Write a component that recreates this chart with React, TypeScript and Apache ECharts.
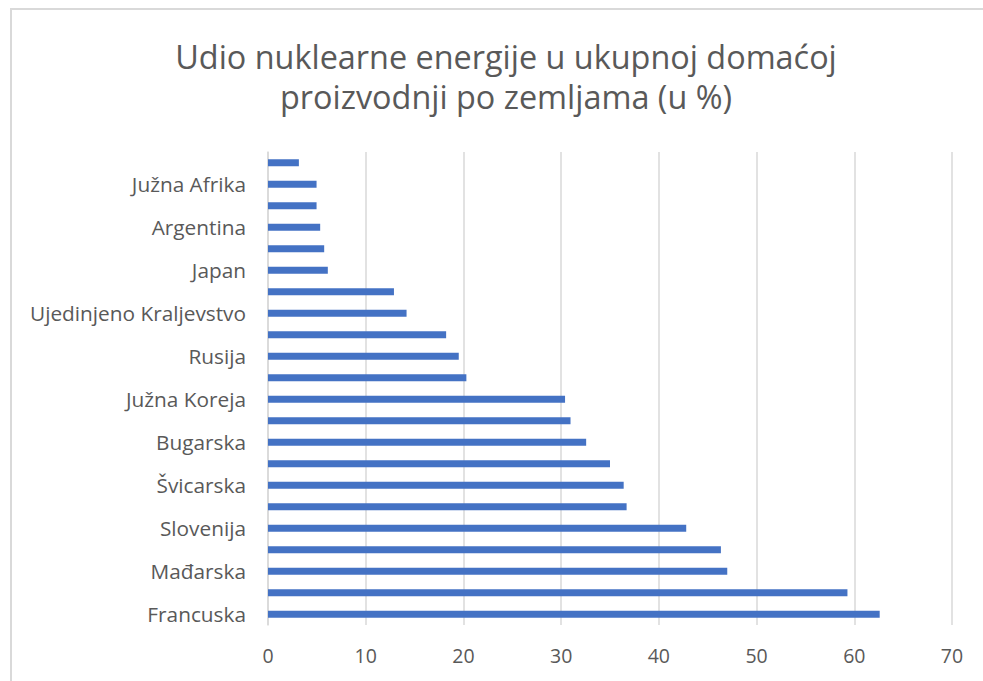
import React, { useEffect, useRef } from "react";
import * as echarts from "echarts";

// Categories from bottom (index 0) to top
const countries = [
  "Francuska", "Slovačka", "Mađarska", "Ukrajina", "Slovenija", "Belgija",
  "Švicarska", "Češka", "Bugarska", "Finska", "Južna Koreja", "Švedska",
  "Rusija", "SAD", "Ujedinjeno Kraljevstvo", "Kanada", "Japan", "Nizozemska",
  "Argentina", "Meksiko", "Južna Afrika", "Indija",
];
const shares = [
  62.6, 59.3, 47.0, 46.35, 42.8, 36.7,
  36.4, 35.0, 32.56, 30.96, 30.4, 20.3,
  19.52, 18.23, 14.18, 12.89, 6.12, 5.75,
  5.34, 4.97, 4.97, 3.16,
];
const xTicks = [0, 10, 20, 30, 40, 50, 60, 70];
const titleText = "Udio nuklearne energije u ukupnoj domaćoj\nproizvodnji po zemljama (u %)";

const FONT = "'Open Sans', 'Noto Sans', sans-serif";

export default function App() {
  const ref = useRef<HTMLDivElement>(null);
  useEffect(() => {
    if (!ref.current) return;
    const chart = echarts.init(ref.current, undefined, { renderer: "svg" });
    chart.setOption({
      animation: false,
      backgroundColor: "#ffffff",
      title: {
        text: titleText,
        left: 489,
        textAlign: "center",
        top: 21,
        textStyle: {
          fontFamily: FONT,
          fontSize: 32.4,
          fontWeight: "normal",
          color: "#595959",
          lineHeight: 40,
          align: "center",
        },
      },
      grid: { left: 256, right: 27, top: 142, height: 473, containLabel: false },
      xAxis: {
        type: "value",
        min: xTicks[0],
        max: xTicks[xTicks.length - 1],
        interval: 10,
        axisLine: { show: false },
        axisTick: { show: false },
        splitLine: { show: true, lineStyle: { color: "#d9d9d9", width: 1.5 } },
        axisLabel: { color: "#595959", fontFamily: FONT, fontSize: 19.5, margin: 20 },
      },
      yAxis: {
        type: "category",
        data: countries,
        axisLine: { show: true, lineStyle: { color: "#d9d9d9", width: 1.5 } },
        axisTick: { show: false },
        axisLabel: { color: "#595959", fontFamily: FONT, fontSize: 20.8, margin: 22, interval: 1 },
      },
      series: [
        {
          type: "bar",
          data: shares,
          barWidth: 7,
          itemStyle: { color: "#4472C4" },
        },
      ],
    });
    return () => chart.dispose();
  }, []);
  return (
    <div
      style={{
        position: "fixed",
        left: 10,
        top: 8,
        width: 990,
        height: 700,
        border: "2px solid #d9d9d9",
        boxSizing: "border-box",
        background: "#fff",
      }}
    >
      <div ref={ref} style={{ width: 967, height: 696 }} />
    </div>
  );
}
